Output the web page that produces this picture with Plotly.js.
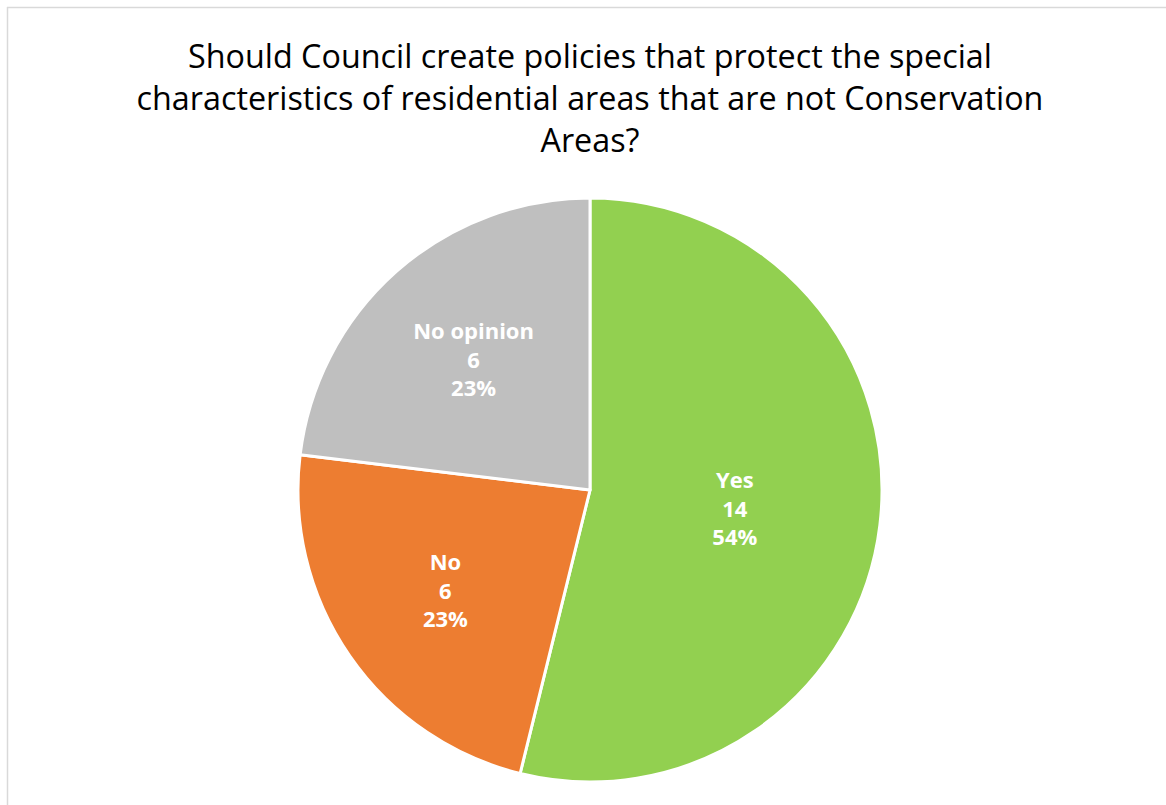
<!DOCTYPE html>
<html>
<head>
<meta charset="utf-8">
<script src="https://cdn.plot.ly/plotly-3.0.1.min.js"></script>
<style>html,body{margin:0;padding:0;background:#fff;overflow:hidden}</style>
</head>
<body>
<div id="chart" style="width:1166px;height:805px"></div>
<script>
const categories = ["Yes", "No", "No opinion"];
const counts = [14, 6, 6];
const sliceColors = ["#92D050", "#ED7D31", "#BFBFBF"];
const chartTitle = "Should Council create policies that protect the special<br>characteristics of residential areas that are not Conservation<br>Areas?";

const W = 1166, H = 805;
const cx = 590, cy = 490, R = 292;

const data = [{
  type: "pie",
  labels: categories,
  values: counts,
  sort: false,
  direction: "clockwise",
  rotation: 0,
  marker: { colors: sliceColors, line: { color: "#ffffff", width: 3 } },
  texttemplate: "<b>%{label}</b><br><b>%{value}</b><br><b>%{percent:.0%}</b>",
  textposition: "inside",
  insidetextorientation: "horizontal",
  textfont: { family: "Open Sans, sans-serif", size: 22, color: "#ffffff" },
  hoverinfo: "label+value+percent",
  domain: { x: [(cx - R) / W, (cx + R) / W], y: [1 - (cy + R) / H, 1 - (cy - R) / H] }
}];

const layout = {
  width: W, height: H,
  margin: { l: 0, r: 0, t: 0, b: 0 },
  paper_bgcolor: "#ffffff",
  showlegend: false,
  title: {
    text: chartTitle,
    font: { family: "Open Sans, sans-serif", size: 32.3, color: "#000000" },
    x: 590 / W, xanchor: "center",
    y: 1 - 68 / H, yanchor: "top", yref: "container"
  },
  shapes: [
    { type: "line", xref: "paper", yref: "paper", x0: 7 / W, x1: 1, y0: 1 - 7.5 / H, y1: 1 - 7.5 / H, line: { color: "#D9D9D9", width: 1.5 } },
    { type: "line", xref: "paper", yref: "paper", x0: 7.5 / W, x1: 7.5 / W, y0: 0, y1: 1 - 7 / H, line: { color: "#D9D9D9", width: 1.5 } }
  ]
};

Plotly.newPlot("chart", data, layout, { displayModeBar: false, staticPlot: true });
</script>
</body>
</html>
